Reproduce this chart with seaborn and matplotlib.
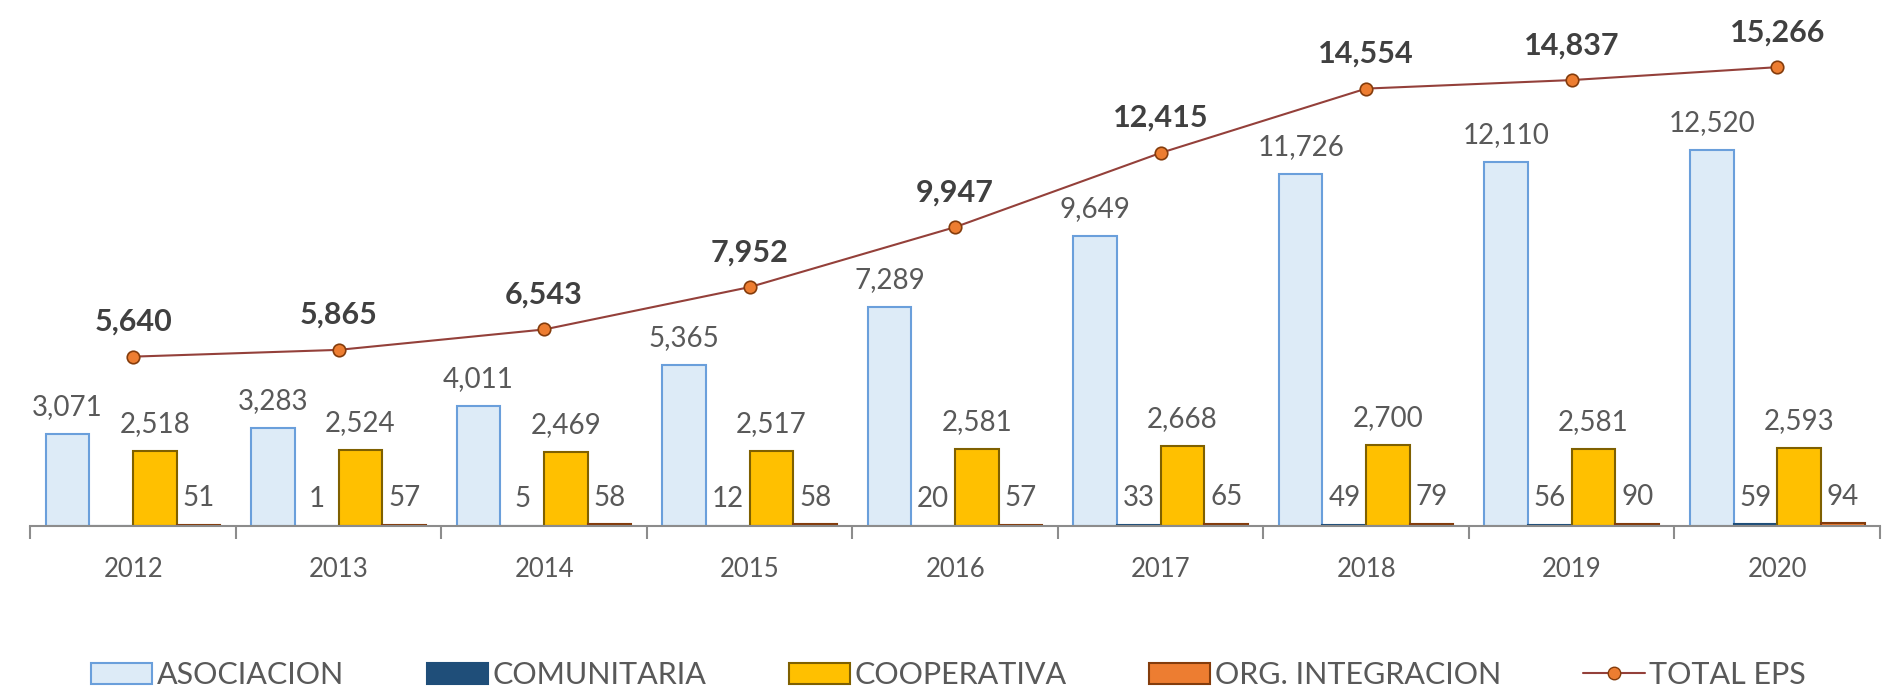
import matplotlib.pyplot as plt
import matplotlib.ticker as mticker
from matplotlib.lines import Line2D
from matplotlib.patches import Patch
import pandas as pd
import seaborn as sns

# data
years = ["2012", "2013", "2014", "2015", "2016", "2017", "2018", "2019", "2020"]
asociacion = [3071, 3283, 4011, 5365, 7289, 9649, 11726, 12110, 12520]
comunitaria = [0, 1, 5, 12, 20, 33, 49, 56, 59]
cooperativa = [2518, 2524, 2469, 2517, 2581, 2668, 2700, 2581, 2593]
org_integracion = [51, 57, 58, 58, 57, 65, 79, 90, 94]
total_eps = [5640, 5865, 6543, 7952, 9947, 12415, 14554, 14837, 15266]

series = ["ASOCIACION", "COMUNITARIA", "COOPERATIVA", "ORG. INTEGRACION"]
fills = ["#DDEBF7", "#1F4E79", "#FFC000", "#ED7D31"]
edges = ["#6A9FDB", "#1F4E79", "#7F6000", "#843C0C"]
GREY = "#595959"

df = pd.DataFrame({"Year": years, "ASOCIACION": asociacion, "COMUNITARIA": comunitaria,
                   "COOPERATIVA": cooperativa, "ORG. INTEGRACION": org_integracion})
tidy = df.melt(id_vars="Year", var_name="Tipo", value_name="Valor")
tot = pd.DataFrame({"Year": years, "Total": total_eps})

sns.set_style("white")
plt.rcParams["font.family"] = ["Lato", "DejaVu Sans"]

fig = plt.figure(figsize=(18.97, 6.97), dpi=100)
ax = fig.add_axes([0.016, 0.245, 0.975, 0.755])

sns.barplot(data=tidy, x="Year", y="Valor", hue="Tipo", hue_order=series, order=years,
            width=0.85, ax=ax, legend=False, linewidth=1.5)
for cont, fc, ec in zip(ax.containers, fills, edges):
    for bar, val in zip(cont, cont.datavalues):
        bar.set_facecolor(fc)
        bar.set_edgecolor(ec)
        if val > 0:
            ax.annotate(f"{int(val):,}", (bar.get_x() + bar.get_width() / 2, bar.get_height()),
                        xytext=(0, 10), textcoords="offset points", ha="center", va="bottom",
                        fontsize=20, color=GREY)

sns.pointplot(data=tot, x="Year", y="Total", order=years, color="#94403A", ax=ax,
              markers="o", linewidth=1.5, markersize=9,
              markerfacecolor="#ED7D31", markeredgecolor="#843C0C", markeredgewidth=1.2)
for i, v in enumerate(total_eps):
    ax.annotate(f"{v:,}", (i, v), xytext=(0, 15), textcoords="offset points",
                ha="center", va="bottom", fontsize=22, fontweight="bold", color="#404040")

ax.set_ylim(0, 17500)
ax.set_xlim(-0.5, len(years) - 0.5)
ax.set_xlabel("")
ax.set_ylabel("")
ax.set_yticks([])
sns.despine(ax=ax, left=True)
ax.spines["bottom"].set_color("#8C8C8C")
ax.spines["bottom"].set_linewidth(1.5)
ax.tick_params(axis="x", which="major", length=0, pad=22, labelsize=18.5, labelcolor=GREY)
ax.xaxis.set_minor_locator(mticker.FixedLocator([i - 0.5 for i in range(len(years) + 1)]))
ax.tick_params(axis="x", which="minor", bottom=True, length=9, width=1.5,
               color="#8C8C8C", direction="out")

handles = [Patch(facecolor=fc, edgecolor=ec, linewidth=1.5) for fc, ec in zip(fills, edges)]
handles.append(Line2D([], [], color="#94403A", linewidth=1.5, marker="o", markersize=9,
                      markerfacecolor="#ED7D31", markeredgecolor="#843C0C"))
fig.legend(handles, series + ["TOTAL EPS"], loc="lower center", bbox_to_anchor=(0.5, -0.028),
           ncol=5, frameon=False, fontsize=22, labelcolor=GREY, handlelength=2.0,
           handleheight=0.7, handletextpad=0.15, columnspacing=2.7)

fig.savefig("out.png", dpi=100)
